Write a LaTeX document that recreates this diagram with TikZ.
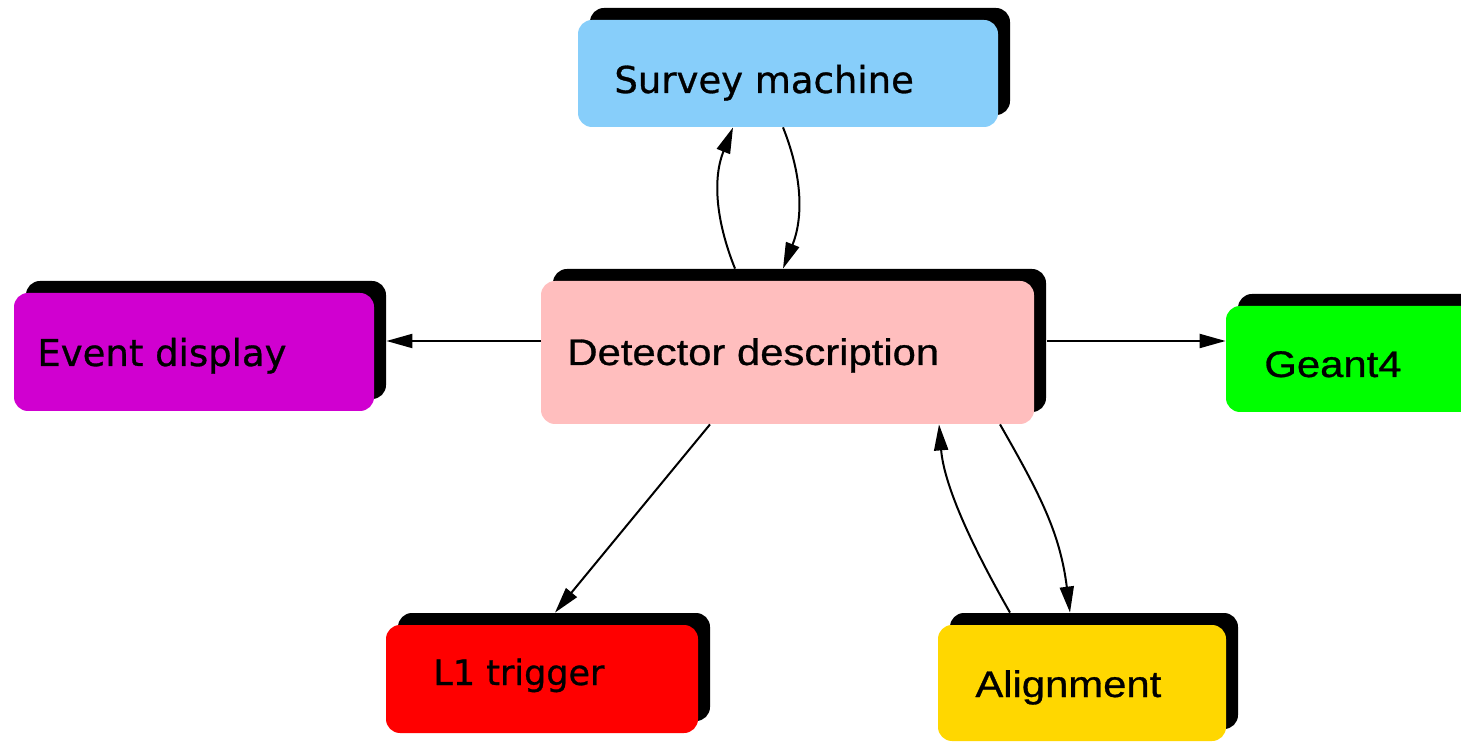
\documentclass[tikz,border=0pt]{standalone}
\usepackage{fontspec}
\usetikzlibrary{shadows,arrows.meta,calc}
\newfontfamily\helv[FakeStretch=1.13,FakeBold=0.8]{Liberation Sans}
\newfontfamily\tah[FakeBold=0.8]{DejaVu Sans}
\definecolor{surveyblue}{RGB}{135,206,250}
\definecolor{detpink}{RGB}{255,190,190}
\definecolor{evmagenta}{RGB}{208,0,208}
\definecolor{g4green}{RGB}{0,255,0}
\definecolor{l1red}{RGB}{255,0,0}
\definecolor{aligngold}{RGB}{255,215,0}
\tikzset{
  boxnode/.style={rectangle, rounded corners=7pt, inner sep=0pt, draw=none,
    general shadow={fill=black, shadow xshift=6pt, shadow yshift=6pt}},
  labelA/.style={anchor=base west, inner sep=0pt, font=\helv\fontsize{18.5}{20}\selectfont},
  labelB/.style={anchor=base west, inner sep=0pt, font=\tah\fontsize{18.5}{20}\selectfont},
  link/.style={line width=1pt, -{Triangle[length=13pt,width=7pt]}}
}
\begin{document}
\begin{tikzpicture}[x=0.5pt,y=-0.5pt]
\useasboundingbox (0,0) rectangle (1461,742);
\clip (0,0) rectangle (1461,742);

% boxes
\node[boxnode, fill=surveyblue, minimum width=210pt, minimum height=53.5pt] (survey) at (788,73.5) {};
\node[boxnode, fill=detpink, minimum width=246.5pt, minimum height=71.5pt] (det) at (787.5,352.5) {};
\node[boxnode, fill=evmagenta, minimum width=180pt, minimum height=59pt] (event) at (194,352) {};
\node[boxnode, fill=g4green, minimum width=127pt, minimum height=53pt] (geant) at (1353,359) {};
\node[boxnode, fill=l1red, minimum width=156pt, minimum height=54pt] (lone) at (542,679) {};
\node[boxnode, fill=aligngold, minimum width=144pt, minimum height=58pt] (align) at (1082,683) {};

% labels
\node[labelB] (surveyT) at (614,93) {Survey machine};
\node[labelA] (detT) at (567,365) {Detector description};
\node[labelB] (eventT) at (37,366) {Event display};
\node[labelA] (geantT) at (1264,377) {Geant4};
\node[labelB, font=\tah\fontsize{17.5}{20}\selectfont] (loneT) at (433,685) {L1 trigger};
\node[labelA] (alignT) at (975,697) {Alignment};

% connectors
\draw[link] ($(det.north)+(-52.5,-12)$) .. controls +(-20,-50) and +(-20,50) .. ($(survey.south)+(-55,0)$);
\draw[link] ($(survey.south)+(-5,0)$) .. controls +(20,50) and +(20,-50) .. ($(det.north)+(-4.5,-12)$);
\draw[link] ($(det.west)+(0,-11.5)$) -- ($(event.east)+(12,-11)$);
\draw[link] ($(det.east)+(12.5,-11.5)$) -- ($(geant.west)+(0,-18)$);
\draw[link] ($(det.south)+(-77.5,0)$) -- ($(lone.north)+(13,-12)$);
\draw[link] ($(align.north)+(-72,-12)$) .. controls +(-40,-70) and +(5,60) .. ($(det.south)+(151.5,0)$);
\draw[link] ($(det.south)+(212.5,0)$) .. controls +(40,70) and +(-10,-80) .. ($(align.north)+(-12,-12)$);
\end{tikzpicture}
\end{document}
